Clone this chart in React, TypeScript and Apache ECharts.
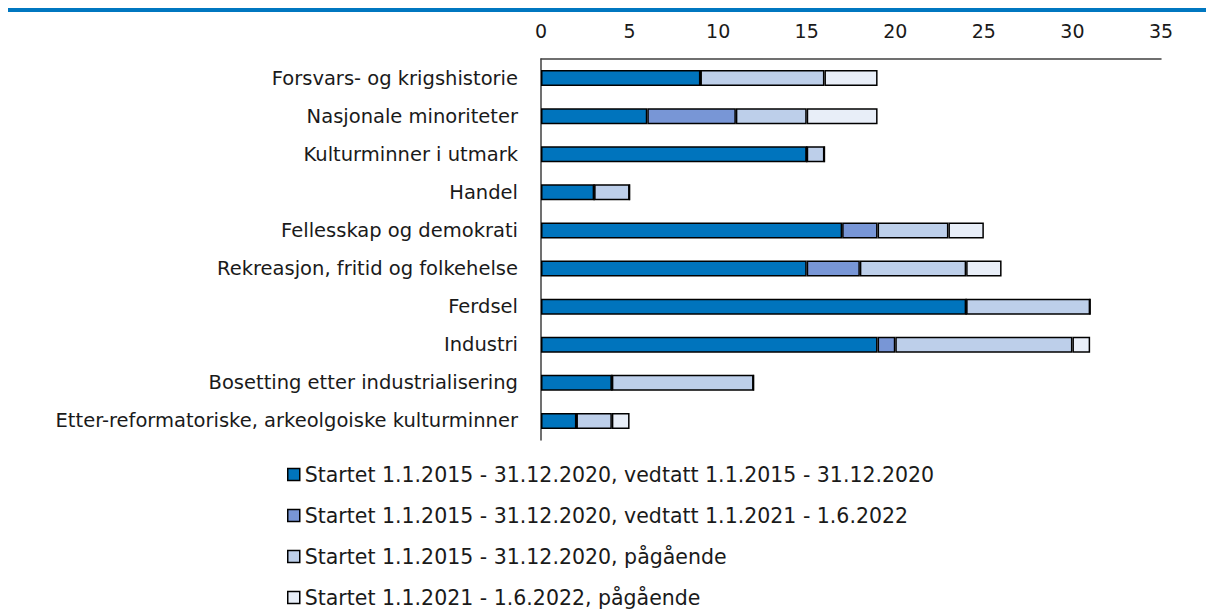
import React, { useEffect, useRef } from "react";
import * as echarts from "echarts";

const categories = [
  "Forsvars- og krigshistorie",
  "Nasjonale minoriteter",
  "Kulturminner i utmark",
  "Handel",
  "Fellesskap og demokrati",
  "Rekreasjon, fritid og folkehelse",
  "Ferdsel",
  "Industri",
  "Bosetting etter industrialisering",
  "Etter-reformatoriske, arkeolgoiske kulturminner",
];

const seriesNames = [
  "Startet 1.1.2015 - 31.12.2020, vedtatt 1.1.2015 - 31.12.2020",
  "Startet 1.1.2015 - 31.12.2020, vedtatt 1.1.2021 - 1.6.2022",
  "Startet 1.1.2015 - 31.12.2020, pågående",
  "Startet 1.1.2021 - 1.6.2022, pågående",
];

const vedtattTidlig = [9, 6, 15, 3, 17, 15, 24, 19, 4, 2];
const vedtattSent = [0, 5, 0, 0, 2, 3, 0, 1, 0, 0];
const pagaendeTidlig = [7, 4, 1, 2, 4, 6, 7, 10, 8, 2];
const pagaendeSent = [3, 4, 0, 0, 2, 2, 0, 1, 0, 1];

const seriesValues = [vedtattTidlig, vedtattSent, pagaendeTidlig, pagaendeSent];
const colors = ["#0074BD", "#7896D6", "#BDCFEA", "#E8EEF8"];
const xTicks = [0, 5, 10, 15, 20, 25, 30, 35];

const FONT = "'DejaVu Sans', sans-serif";

export default function App() {
  const ref = useRef<HTMLDivElement>(null);
  useEffect(() => {
    if (!ref.current) return;
    const chart = echarts.init(ref.current, undefined, { renderer: "svg" });
    chart.setOption({
      animation: false,
      textStyle: { fontFamily: FONT },
      graphic: [
        {
          type: "rect",
          shape: { x: 8, y: 8, width: 1198, height: 4 },
          style: { fill: "#0077C0" },
        },
      ],
      grid: { left: 541, right: 45, top: 59, bottom: 172 },
      legend: {
        orient: "vertical",
        left: 287,
        top: 464,
        height: 148,
        padding: 0,
        itemWidth: 12,
        itemHeight: 12,
        itemGap: 20,
        icon: "rect",
        data: seriesNames,
        textStyle: { fontFamily: FONT, fontSize: 20.5, color: "#1a1a1a", padding: [0, 0, 0, 0] },
        itemStyle: { borderColor: "#000", borderWidth: 1.5 },
      },
      xAxis: {
        type: "value",
        position: "top",
        min: 0,
        max: 35,
        interval: 5,
        axisLine: { show: true, lineStyle: { color: "#404040", width: 1.5 } },
        axisTick: { show: false },
        splitLine: { show: false },
        axisLabel: {
          fontFamily: FONT,
          fontSize: 19,
          color: "#1a1a1a",
          margin: 19,
          formatter: (v: number) => (xTicks.includes(v) ? String(v) : ""),
        },
      },
      yAxis: {
        type: "category",
        inverse: true,
        data: categories,
        axisLine: { show: true, lineStyle: { color: "#404040", width: 1.5 } },
        axisTick: { show: false },
        axisLabel: { fontFamily: FONT, fontSize: 19.5, color: "#1a1a1a", margin: 23 },
      },
      series: seriesValues.map((vals, i) => ({
        name: seriesNames[i],
        type: "bar",
        stack: "total",
        barWidth: 16,
        data: vals,
        itemStyle: { color: colors[i], borderColor: "#000", borderWidth: 1.5 },
      })),
    });
    return () => chart.dispose();
  }, []);
  return <div ref={ref} style={{ width: 1206, height: 612, position: "absolute", left: 0, top: 0 }} />;
}
